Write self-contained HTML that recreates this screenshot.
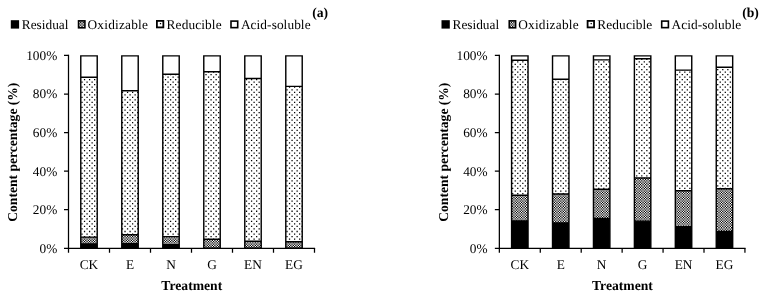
<!DOCTYPE html>
<html lang="en">
<head>
<meta charset="utf-8">
<title>Content percentage by treatment</title>
<style>
html,body{margin:0;padding:0;background:#fff;}
body{width:766px;height:298px;overflow:hidden;}
svg{display:block;will-change:transform;}
svg text{font-family:"Liberation Serif","Times New Roman",Times,serif;font-size:13.33px;fill:#000;text-rendering:geometricPrecision;}
svg text[font-weight=bold]{font-size:13.65px;}
</style>
</head>
<body>
<svg width="766" height="298" viewBox="0 0 766 298">
<g transform="translate(0,0)">
<clipPath id="cda"><rect x="80.78" y="77.2" width="16.43" height="159.9"/><rect x="121.78" y="90.8" width="16.43" height="144"/><rect x="162.78" y="74.3" width="16.43" height="162.3"/><rect x="203.78" y="71.8" width="16.43" height="167.4"/><rect x="244.78" y="78.45" width="16.43" height="162.85"/><rect x="285.79" y="86.4" width="16.43" height="155.3"/></clipPath>
<clipPath id="coa"><rect x="80.78" y="237.1" width="16.43" height="6.91"/><rect x="121.78" y="234.8" width="16.43" height="8.81"/><rect x="162.78" y="236.6" width="16.43" height="8.21"/><rect x="203.78" y="239.2" width="16.43" height="9.21"/><rect x="244.78" y="241.3" width="16.43" height="6.91"/><rect x="285.79" y="241.7" width="16.43" height="6.51"/></clipPath>
<rect x="80.78" y="55.85" width="16.43" height="192.45" fill="#fff"/>
<rect x="121.78" y="55.85" width="16.43" height="192.45" fill="#fff"/>
<rect x="162.78" y="55.85" width="16.43" height="192.45" fill="#fff"/>
<rect x="203.78" y="55.85" width="16.43" height="192.45" fill="#fff"/>
<rect x="244.78" y="55.85" width="16.43" height="192.45" fill="#fff"/>
<rect x="285.79" y="55.85" width="16.43" height="192.45" fill="#fff"/>
<g clip-path="url(#cda)" stroke="#000" stroke-width="1.2655" stroke-dasharray="1.2655 3.7965" fill="none"><path d="M61.12 51.8028H316.5M61.12 56.8648H316.5M61.12 61.9268H316.5M61.12 66.9888H316.5M61.12 72.0508H316.5M61.12 77.1128H316.5M61.12 82.1748H316.5M61.12 87.2368H316.5M61.12 92.2988H316.5M61.12 97.3608H316.5M61.12 102.4228H316.5M61.12 107.4848H316.5M61.12 112.5468H316.5M61.12 117.6088H316.5M61.12 122.6707H316.5M61.12 127.7327H316.5M61.12 132.7947H316.5M61.12 137.8568H316.5M61.12 142.9188H316.5M61.12 147.9808H316.5M61.12 153.0428H316.5M61.12 158.1048H316.5M61.12 163.1668H316.5M61.12 168.2288H316.5M61.12 173.2908H316.5M61.12 178.3528H316.5M61.12 183.4148H316.5M61.12 188.4768H316.5M61.12 193.5388H316.5M61.12 198.6008H316.5M61.12 203.6628H316.5M61.12 208.7248H316.5M61.12 213.7868H316.5M61.12 218.8488H316.5M61.12 223.9108H316.5M61.12 228.9728H316.5M61.12 234.0348H316.5M61.12 239.0968H316.5M61.12 244.1588H316.5M61.12 249.2208H316.5"/><path d="M58.589 54.3338H316.5M58.589 59.3958H316.5M58.589 64.4578H316.5M58.589 69.5198H316.5M58.589 74.5818H316.5M58.589 79.6438H316.5M58.589 84.7058H316.5M58.589 89.7678H316.5M58.589 94.8298H316.5M58.589 99.8918H316.5M58.589 104.9538H316.5M58.589 110.0158H316.5M58.589 115.0778H316.5M58.589 120.1398H316.5M58.589 125.2018H316.5M58.589 130.2637H316.5M58.589 135.3257H316.5M58.589 140.3878H316.5M58.589 145.4498H316.5M58.589 150.5118H316.5M58.589 155.5738H316.5M58.589 160.6358H316.5M58.589 165.6978H316.5M58.589 170.7598H316.5M58.589 175.8218H316.5M58.589 180.8838H316.5M58.589 185.9458H316.5M58.589 191.0078H316.5M58.589 196.0698H316.5M58.589 201.1318H316.5M58.589 206.1938H316.5M58.589 211.2558H316.5M58.589 216.3178H316.5M58.589 221.3798H316.5M58.589 226.4418H316.5M58.589 231.5038H316.5M58.589 236.5658H316.5M58.589 241.6278H316.5M58.589 246.6898H316.5M58.589 251.7518H316.5"/></g>
<g clip-path="url(#coa)"><rect x="68.5" y="55.45" width="246" height="192.85" fill="#fff"/><g stroke="#000" stroke-width="1.2655" stroke-dasharray="1.2655 1.2655" fill="none"><path d="M61.12 226.4918H316.5M61.12 229.0228H316.5M61.12 231.5538H316.5M61.12 234.0848H316.5M61.12 236.6158H316.5M61.12 239.1468H316.5M61.12 241.6778H316.5M61.12 244.2088H316.5M61.12 246.7398H316.5M61.12 249.2708H316.5"/><path transform="translate(1.2655,1.2655)" d="M61.12 226.4918H316.5M61.12 229.0228H316.5M61.12 231.5538H316.5M61.12 234.0848H316.5M61.12 236.6158H316.5M61.12 239.1468H316.5M61.12 241.6778H316.5M61.12 244.2088H316.5M61.12 246.7398H316.5M61.12 249.2708H316.5"/></g></g>
<rect x="80.78" y="244.01" width="16.43" height="4.29" fill="#000"/>
<rect x="121.78" y="243.61" width="16.43" height="4.69" fill="#000"/>
<rect x="162.78" y="244.81" width="16.43" height="3.49" fill="#000"/>
<rect x="244.78" y="248.21" width="16.43" height="0.09" fill="#000"/>
<rect x="285.79" y="248.21" width="16.43" height="0.09" fill="#000"/>
<path d="M80.78 55.85H97.22V248.3H80.78ZM80.78 77.2H97.22M80.78 237.1H97.22M80.78 244.01H97.22M121.78 55.85H138.22V248.3H121.78ZM121.78 90.8H138.22M121.78 234.8H138.22M121.78 243.61H138.22M162.78 55.85H179.22V248.3H162.78ZM162.78 74.3H179.22M162.78 236.6H179.22M162.78 244.81H179.22M203.78 55.85H220.22V248.3H203.78ZM203.78 71.8H220.22M203.78 239.2H220.22M203.78 248.41H220.22M244.78 55.85H261.21V248.3H244.78ZM244.78 78.45H261.21M244.78 241.3H261.21M244.78 248.21H261.21M285.79 55.85H302.22V248.3H285.79ZM285.79 86.4H302.22M285.79 241.7H302.22M285.79 248.21H302.22" fill="none" stroke="#000" stroke-width="1.42"/>
<path d="M68.5 54.83V248.3H315.12" fill="none" stroke="#000" stroke-width="1.25"/>
<path d="M64 248.3H68.5M64 209.73H68.5M64 171.16H68.5M64 132.59H68.5M64 94.02H68.5M64 55.45H68.5M68.5 248.3V252.7M109.5 248.3V252.7M150.5 248.3V252.7M191.5 248.3V252.7M232.5 248.3V252.7M273.5 248.3V252.7M314.5 248.3V252.7" fill="none" stroke="#000" stroke-width="1.25"/>
<rect x="10.8" y="20.2" width="8.3" height="8.4" fill="#000"/>
<text x="21.8" y="28.6">Residual</text>
<rect x="77.75" y="20.05" width="7.95" height="8.55" fill="#000"/>
<clipPath id="cla"><rect x="79.35" y="21.65" width="4.75" height="5.35"/></clipPath>
<g clip-path="url(#cla)"><rect x="77.75" y="20.05" width="7.95" height="8.55" fill="#fff"/><g stroke="#000" stroke-width="1.2655" stroke-dasharray="1.2655 1.2655" fill="none"><path d="M73.775 16.3687H87.7M73.775 18.8997H87.7M73.775 21.4307H87.7M73.775 23.9617H87.7M73.775 26.4927H87.7M73.775 29.0237H87.7"/><path transform="translate(1.2655,1.2655)" d="M73.775 16.3687H87.7M73.775 18.8997H87.7M73.775 21.4307H87.7M73.775 23.9617H87.7M73.775 26.4927H87.7M73.775 29.0237H87.7"/></g></g>
<text x="87.5" y="28.6" textLength="60.4" lengthAdjust="spacing">Oxidizable</text>
<rect x="156.9" y="20.9" width="6.45" height="6.5" fill="#fff" stroke="#000" stroke-width="1.8"/>
<rect x="159.87" y="22.97" width="1.2655" height="1.2655" fill="#000"/>
<text x="166.6" y="28.6" textLength="54.95" lengthAdjust="spacing">Reducible</text>
<rect x="231" y="21.1" width="6.7" height="6.55" fill="#fff" stroke="#000" stroke-width="1.6"/>
<text x="240.9" y="28.6" textLength="69.66" lengthAdjust="spacing">Acid-soluble</text>
<text x="312.2" y="17.3" font-weight="bold">(a)</text>
<text x="57.3" y="252.7" text-anchor="end">0%</text>
<text x="57.3" y="214.13" text-anchor="end">20%</text>
<text x="57.3" y="175.56" text-anchor="end">40%</text>
<text x="57.3" y="136.99" text-anchor="end">60%</text>
<text x="57.3" y="98.42" text-anchor="end">80%</text>
<text x="57.3" y="59.85" text-anchor="end">100%</text>
<text x="89" y="268.5" text-anchor="middle">CK</text>
<text x="130" y="268.5" text-anchor="middle">E</text>
<text x="171" y="268.5" text-anchor="middle">N</text>
<text x="212" y="268.5" text-anchor="middle">G</text>
<text x="253" y="268.5" text-anchor="middle">EN</text>
<text x="294" y="268.5" text-anchor="middle">EG</text>
<text x="191.8" y="289.6" text-anchor="middle" font-weight="bold">Treatment</text>
<text transform="translate(17,152.18) rotate(-90)" text-anchor="middle" font-weight="bold" style="font-size:13.57px">Content percentage (%)</text>
</g>
<g transform="translate(430.7,0)">
<clipPath id="cdb"><rect x="80.9" y="60.25" width="16.43" height="135.05"/><rect x="121.83" y="79.3" width="16.43" height="114.7"/><rect x="162.76" y="59.85" width="16.43" height="129.45"/><rect x="203.69" y="58.8" width="16.43" height="119.2"/><rect x="244.62" y="70.1" width="16.43" height="120.7"/><rect x="285.55" y="67.2" width="16.43" height="121.6"/></clipPath>
<clipPath id="cob"><rect x="80.9" y="195.3" width="16.43" height="25.61"/><rect x="121.83" y="194" width="16.43" height="28.91"/><rect x="162.76" y="189.3" width="16.43" height="29.21"/><rect x="203.69" y="178" width="16.43" height="43.11"/><rect x="244.62" y="190.8" width="16.43" height="35.91"/><rect x="285.55" y="188.8" width="16.43" height="42.71"/></clipPath>
<rect x="80.9" y="55.85" width="16.43" height="192.45" fill="#fff"/>
<rect x="121.83" y="55.85" width="16.43" height="192.45" fill="#fff"/>
<rect x="162.76" y="55.85" width="16.43" height="192.45" fill="#fff"/>
<rect x="203.69" y="55.85" width="16.43" height="192.45" fill="#fff"/>
<rect x="244.62" y="55.85" width="16.43" height="192.45" fill="#fff"/>
<rect x="285.55" y="55.85" width="16.43" height="192.45" fill="#fff"/>
<g clip-path="url(#cdb)" stroke="#000" stroke-width="1.2655" stroke-dasharray="1.2655 3.7965" fill="none"><path d="M61.12 51.8028H316.23M61.12 56.8648H316.23M61.12 61.9268H316.23M61.12 66.9888H316.23M61.12 72.0508H316.23M61.12 77.1128H316.23M61.12 82.1748H316.23M61.12 87.2368H316.23M61.12 92.2988H316.23M61.12 97.3608H316.23M61.12 102.4228H316.23M61.12 107.4848H316.23M61.12 112.5468H316.23M61.12 117.6088H316.23M61.12 122.6707H316.23M61.12 127.7327H316.23M61.12 132.7947H316.23M61.12 137.8568H316.23M61.12 142.9188H316.23M61.12 147.9808H316.23M61.12 153.0428H316.23M61.12 158.1048H316.23M61.12 163.1668H316.23M61.12 168.2288H316.23M61.12 173.2908H316.23M61.12 178.3528H316.23M61.12 183.4148H316.23M61.12 188.4768H316.23M61.12 193.5388H316.23M61.12 198.6008H316.23M61.12 203.6628H316.23M61.12 208.7248H316.23M61.12 213.7868H316.23M61.12 218.8488H316.23M61.12 223.9108H316.23M61.12 228.9728H316.23M61.12 234.0348H316.23M61.12 239.0968H316.23M61.12 244.1588H316.23M61.12 249.2208H316.23"/><path d="M58.589 54.3338H316.23M58.589 59.3958H316.23M58.589 64.4578H316.23M58.589 69.5198H316.23M58.589 74.5818H316.23M58.589 79.6438H316.23M58.589 84.7058H316.23M58.589 89.7678H316.23M58.589 94.8298H316.23M58.589 99.8918H316.23M58.589 104.9538H316.23M58.589 110.0158H316.23M58.589 115.0778H316.23M58.589 120.1398H316.23M58.589 125.2018H316.23M58.589 130.2637H316.23M58.589 135.3257H316.23M58.589 140.3878H316.23M58.589 145.4498H316.23M58.589 150.5118H316.23M58.589 155.5738H316.23M58.589 160.6358H316.23M58.589 165.6978H316.23M58.589 170.7598H316.23M58.589 175.8218H316.23M58.589 180.8838H316.23M58.589 185.9458H316.23M58.589 191.0078H316.23M58.589 196.0698H316.23M58.589 201.1318H316.23M58.589 206.1938H316.23M58.589 211.2558H316.23M58.589 216.3178H316.23M58.589 221.3798H316.23M58.589 226.4418H316.23M58.589 231.5038H316.23M58.589 236.5658H316.23M58.589 241.6278H316.23M58.589 246.6898H316.23M58.589 251.7518H316.23"/></g>
<g clip-path="url(#cob)"><rect x="68.65" y="55.45" width="245.58" height="192.85" fill="#fff"/><g stroke="#000" stroke-width="1.2655" stroke-dasharray="1.2655 1.2655" fill="none"><path d="M61.12 102.4728H316.23M61.12 105.0038H316.23M61.12 107.5348H316.23M61.12 110.0658H316.23M61.12 112.5968H316.23M61.12 115.1278H316.23M61.12 117.6588H316.23M61.12 120.1898H316.23M61.12 122.7208H316.23M61.12 125.2518H316.23M61.12 127.7828H316.23M61.12 130.3138H316.23M61.12 132.8448H316.23M61.12 135.3758H316.23M61.12 137.9068H316.23M61.12 140.4378H316.23M61.12 142.9688H316.23M61.12 145.4998H316.23M61.12 148.0308H316.23M61.12 150.5618H316.23M61.12 153.0928H316.23M61.12 155.6238H316.23M61.12 158.1548H316.23M61.12 160.6858H316.23M61.12 163.2168H316.23M61.12 165.7478H316.23M61.12 168.2788H316.23M61.12 170.8098H316.23M61.12 173.3408H316.23M61.12 175.8718H316.23M61.12 178.4028H316.23M61.12 180.9338H316.23M61.12 183.4648H316.23M61.12 185.9958H316.23M61.12 188.5268H316.23M61.12 191.0578H316.23M61.12 193.5888H316.23M61.12 196.1198H316.23M61.12 198.6508H316.23M61.12 201.1818H316.23M61.12 203.7128H316.23M61.12 206.2438H316.23M61.12 208.7748H316.23M61.12 211.3058H316.23M61.12 213.8368H316.23M61.12 216.3678H316.23M61.12 218.8988H316.23M61.12 221.4298H316.23M61.12 223.9608H316.23M61.12 226.4918H316.23M61.12 229.0228H316.23M61.12 231.5538H316.23M61.12 234.0848H316.23M61.12 236.6158H316.23M61.12 239.1468H316.23M61.12 241.6778H316.23M61.12 244.2088H316.23M61.12 246.7398H316.23M61.12 249.2708H316.23"/><path transform="translate(1.2655,1.2655)" d="M61.12 102.4728H316.23M61.12 105.0038H316.23M61.12 107.5348H316.23M61.12 110.0658H316.23M61.12 112.5968H316.23M61.12 115.1278H316.23M61.12 117.6588H316.23M61.12 120.1898H316.23M61.12 122.7208H316.23M61.12 125.2518H316.23M61.12 127.7828H316.23M61.12 130.3138H316.23M61.12 132.8448H316.23M61.12 135.3758H316.23M61.12 137.9068H316.23M61.12 140.4378H316.23M61.12 142.9688H316.23M61.12 145.4998H316.23M61.12 148.0308H316.23M61.12 150.5618H316.23M61.12 153.0928H316.23M61.12 155.6238H316.23M61.12 158.1548H316.23M61.12 160.6858H316.23M61.12 163.2168H316.23M61.12 165.7478H316.23M61.12 168.2788H316.23M61.12 170.8098H316.23M61.12 173.3408H316.23M61.12 175.8718H316.23M61.12 178.4028H316.23M61.12 180.9338H316.23M61.12 183.4648H316.23M61.12 185.9958H316.23M61.12 188.5268H316.23M61.12 191.0578H316.23M61.12 193.5888H316.23M61.12 196.1198H316.23M61.12 198.6508H316.23M61.12 201.1818H316.23M61.12 203.7128H316.23M61.12 206.2438H316.23M61.12 208.7748H316.23M61.12 211.3058H316.23M61.12 213.8368H316.23M61.12 216.3678H316.23M61.12 218.8988H316.23M61.12 221.4298H316.23M61.12 223.9608H316.23M61.12 226.4918H316.23M61.12 229.0228H316.23M61.12 231.5538H316.23M61.12 234.0848H316.23M61.12 236.6158H316.23M61.12 239.1468H316.23M61.12 241.6778H316.23M61.12 244.2088H316.23M61.12 246.7398H316.23M61.12 249.2708H316.23"/></g></g>
<rect x="80.9" y="220.91" width="16.43" height="27.39" fill="#000"/>
<rect x="121.83" y="222.91" width="16.43" height="25.39" fill="#000"/>
<rect x="162.76" y="218.51" width="16.43" height="29.79" fill="#000"/>
<rect x="203.69" y="221.11" width="16.43" height="27.19" fill="#000"/>
<rect x="244.62" y="226.71" width="16.43" height="21.59" fill="#000"/>
<rect x="285.55" y="231.51" width="16.43" height="16.79" fill="#000"/>
<path d="M80.9 55.85H97.33V248.3H80.9ZM80.9 60.25H97.33M80.9 195.3H97.33M80.9 220.91H97.33M121.83 55.85H138.26V248.3H121.83ZM121.83 79.3H138.26M121.83 194H138.26M121.83 222.91H138.26M162.76 55.85H179.19V248.3H162.76ZM162.76 59.85H179.19M162.76 189.3H179.19M162.76 218.51H179.19M203.69 55.85H220.12V248.3H203.69ZM203.69 58.8H220.12M203.69 178H220.12M203.69 221.11H220.12M244.62 55.85H261.05V248.3H244.62ZM244.62 70.1H261.05M244.62 190.8H261.05M244.62 226.71H261.05M285.55 55.85H301.98V248.3H285.55ZM285.55 67.2H301.98M285.55 188.8H301.98M285.55 231.51H301.98" fill="none" stroke="#000" stroke-width="1.42"/>
<path d="M68.65 54.83V248.3H314.86" fill="none" stroke="#000" stroke-width="1.25"/>
<path d="M64.15 248.3H68.65M64.15 209.73H68.65M64.15 171.16H68.65M64.15 132.59H68.65M64.15 94.02H68.65M64.15 55.45H68.65M68.65 248.3V252.7M109.58 248.3V252.7M150.51 248.3V252.7M191.44 248.3V252.7M232.37 248.3V252.7M273.3 248.3V252.7M314.23 248.3V252.7" fill="none" stroke="#000" stroke-width="1.25"/>
<rect x="10.8" y="20.2" width="8.3" height="8.4" fill="#000"/>
<text x="21.8" y="28.6">Residual</text>
<rect x="77.75" y="20.05" width="7.95" height="8.55" fill="#000"/>
<clipPath id="clb"><rect x="79.35" y="21.65" width="4.75" height="5.35"/></clipPath>
<g clip-path="url(#clb)"><rect x="77.75" y="20.05" width="7.95" height="8.55" fill="#fff"/><g stroke="#000" stroke-width="1.2655" stroke-dasharray="1.2655 1.2655" fill="none"><path d="M73.775 16.3687H87.7M73.775 18.8997H87.7M73.775 21.4307H87.7M73.775 23.9617H87.7M73.775 26.4927H87.7M73.775 29.0237H87.7"/><path transform="translate(1.2655,1.2655)" d="M73.775 16.3687H87.7M73.775 18.8997H87.7M73.775 21.4307H87.7M73.775 23.9617H87.7M73.775 26.4927H87.7M73.775 29.0237H87.7"/></g></g>
<text x="87.5" y="28.6" textLength="60.4" lengthAdjust="spacing">Oxidizable</text>
<rect x="156.9" y="20.9" width="6.45" height="6.5" fill="#fff" stroke="#000" stroke-width="1.8"/>
<rect x="159.87" y="22.97" width="1.2655" height="1.2655" fill="#000"/>
<text x="166.6" y="28.6" textLength="54.95" lengthAdjust="spacing">Reducible</text>
<rect x="231" y="21.1" width="6.7" height="6.55" fill="#fff" stroke="#000" stroke-width="1.6"/>
<text x="240.9" y="28.6" textLength="69.66" lengthAdjust="spacing">Acid-soluble</text>
<text x="311.5" y="17.3" font-weight="bold">(b)</text>
<text x="56.9" y="252.7" text-anchor="end">0%</text>
<text x="56.9" y="214.13" text-anchor="end">20%</text>
<text x="56.9" y="175.56" text-anchor="end">40%</text>
<text x="56.9" y="136.99" text-anchor="end">60%</text>
<text x="56.9" y="98.42" text-anchor="end">80%</text>
<text x="56.9" y="59.85" text-anchor="end">100%</text>
<text x="89.12" y="268.5" text-anchor="middle">CK</text>
<text x="130.05" y="268.5" text-anchor="middle">E</text>
<text x="170.98" y="268.5" text-anchor="middle">N</text>
<text x="211.91" y="268.5" text-anchor="middle">G</text>
<text x="252.84" y="268.5" text-anchor="middle">EN</text>
<text x="293.76" y="268.5" text-anchor="middle">EG</text>
<text x="191.74" y="289.6" text-anchor="middle" font-weight="bold">Treatment</text>
<text transform="translate(17,152.18) rotate(-90)" text-anchor="middle" font-weight="bold" style="font-size:13.57px">Content percentage (%)</text>
</g>
</svg>
</body>
</html>
